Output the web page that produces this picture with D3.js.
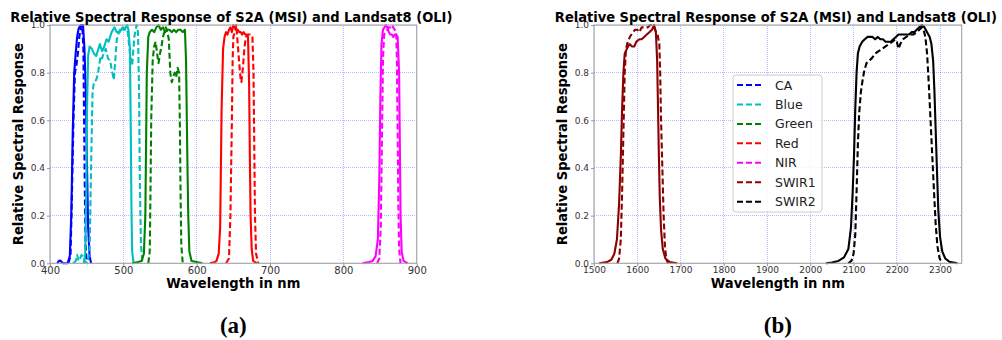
<!DOCTYPE html>
<meta charset="utf-8">
<style>
body{margin:0;background:#fff;}
text{font-family:"DejaVu Sans",sans-serif;}
.grid line{stroke:#3a3aff;stroke-opacity:.45;stroke-dasharray:1,1;stroke-width:.8;shape-rendering:crispEdges;}
.axis line{stroke:#999;}
.axis path{display:none;}
.axis text{fill:#333;}
.frame{fill:none;stroke:#aaa;stroke-width:1.2;}
.band{fill:none;stroke-width:2.1;stroke-linejoin:round;}
.dash{stroke-dasharray:6,3;}
.title,.xlab,.ylab{font-weight:bold;fill:#000;font-size:14px;text-anchor:middle;}
.tag{font-family:"Liberation Serif",serif;font-weight:bold;font-size:23px;text-anchor:middle;}
.legend rect{fill:#fff;fill-opacity:.85;stroke:#ccc;}
.legend text{font-size:12.5px;fill:#222;}
</style>
<body>
<script src="https://d3js.org/d3.v7.min.js"></script>
<script>

// band names + colours (matplotlib b, c, g, r, m, darkred, k)
var bands = ["CA","Blue","Green","Red","NIR","SWIR1","SWIR2"];
var colors = ["#0000ff","#00bfbf","#008000","#ff0000","#ff00ff","#8b0000","#000000"];

var ticksA = [400,500,600,700,800,900];
var ticksB = [1500,1600,1700,1800,1900,2000,2100,2200,2300];
var ticksY = [0,0.2,0.4,0.6,0.8,1.0];

// [wavelength nm, relative response]; solid and dashed curves
var caSolid = [[410,0],[412,0.01],[414,0.012],[416,0.005],[418,0],[424,0],[427,0.03],[429,0.2],[431,0.55],[433,0.8],[435,0.88],[437,0.95],[439,0.985],[442,1.0],[445,1.0],[447,0.9],[449,0.7],[450.5,0.4],[452,0.15],[454,0.03],[456,0]];
var caDash = [[425,0],[428,0.03],[430,0.3],[432,0.6],[434,0.8],[436,0.83],[438,0.88],[440,0.95],[442,0.99],[444,1.0],[445.5,0.9],[446.5,0.6],[447.5,0.3],[448.5,0.08],[450,0]];
var blueSolid = [[446,0],[448,0.04],[449.5,0.3],[450.5,0.65],[452,0.87],[454,0.91],[457,0.9],[460,0.88],[463,0.87],[466,0.9],[468,0.92],[471,0.89],[474,0.91],[477,0.94],[480,0.93],[484,0.97],[488,0.99],[491,0.97],[495,0.97],[499,0.99],[502,0.98],[505,1.0],[507,0.98],[509,0.9],[510,0.6],[511,0.25],[512,0.05],[514,0]];
var blueDash = [[432,0],[435,0.01],[437,0.035],[439,0.01],[441,0.02],[443,0.035],[445,0.03],[447,0.01],[451,0],[454,0.05],[456,0.4],[458,0.72],[460,0.76],[463,0.77],[465,0.79],[467,0.83],[469,0.87],[471,0.86],[473,0.88],[476,0.9],[479,0.86],[482,0.85],[485,0.8],[487,0.77],[489,0.85],[491,0.94],[494,0.97],[497,0.99],[500,0.98],[503,0.99],[506,0.97],[509,0.88],[512,0.83],[515,0.95],[518,1.0],[520,0.97],[521.5,0.7],[522.5,0.35],[524,0.08],[526,0]];
var greenSolid = [[512,0],[520,0.005],[525,0.01],[528,0.04],[530,0.2],[531,0.5],[532,0.8],[534,0.95],[536,0.97],[539,0.98],[542,0.97],[545,0.99],[548,1.0],[551,0.98],[554,0.99],[557,0.97],[560,0.98],[563,0.98],[566,0.97],[569,0.98],[572,0.97],[575,0.98],[578,0.98],[581,0.97],[584,0.98],[585.5,0.85],[587,0.5],[588.5,0.2],[590,0.05],[593,0.01],[608,0]];
var greenDash = [[534,0],[536,0.05],[537,0.3],[538,0.6],[540,0.85],[542,0.91],[544,0.93],[546,0.88],[548,0.84],[550,0.88],[552,0.91],[554,0.95],[556,0.97],[558,0.99],[560,0.97],[562,0.94],[564,0.8],[566,0.76],[568,0.78],[570,0.8],[572,0.78],[574,0.82],[576,0.8],[577,0.6],[578,0.3],[579,0.08],[581,0]];
var redSolid = [[618,0],[624,0.004],[627,0.01],[630,0.04],[632,0.15],[633,0.4],[634,0.65],[636,0.9],[638,0.95],[640,0.97],[642,0.96],[644,0.98],[646,0.99],[648,0.97],[650,1.0],[652,0.99],[654,0.98],[656,0.98],[658,0.97],[660,0.97],[662,0.96],[664,0.97],[666,0.96],[668,0.96],[670,0.95],[671.5,0.75],[672.5,0.45],[673.5,0.2],[675,0.06],[677,0.01],[682,0]];
var redDash = [[640,0],[644,0.02],[646,0.2],[647,0.4],[648,0.6],[649,0.85],[650,0.95],[652,0.97],[654,1.0],[656,0.92],[658,0.84],[660,0.77],[661,0.76],[663,0.82],[665,0.9],[667,0.95],[670,0.96],[673,0.96],[676,0.95],[677.5,0.8],[678.5,0.5],[679.5,0.2],[681,0.04],[684,0]];
var nirSolid = [[826,0],[835,0.005],[840,0.01],[844,0.03],[847,0.1],[849,0.35],[850.5,0.7],[852,0.92],[854,0.98],[856,0.99],[858,1.0],[860,0.99],[862,0.97],[864,0.96],[866,0.96],[868,0.95],[870,0.96],[872,0.96],[874,0.95],[876,0.8],[877,0.5],[878,0.2],[879.5,0.05],[882,0.01],[888,0]];
var nirDash = [[846,0],[849,0.02],[851,0.15],[852.5,0.5],[854,0.85],[855.5,0.96],[858,0.97],[860,0.98],[862,0.99],[864,0.99],[866,1.0],[868,0.99],[870,0.98],[872,0.97],[873,0.85],[874,0.55],[875,0.25],[876,0.06],[878,0]];
var swir1Solid = [[1512,0],[1530,0.005],[1540,0.015],[1547,0.04],[1553,0.1],[1558,0.25],[1562,0.45],[1565,0.65],[1568,0.8],[1571,0.88],[1576,0.9],[1582,0.92],[1588,0.91],[1593,0.91],[1598,0.93],[1605,0.94],[1610,0.94],[1616,0.95],[1622,0.96],[1628,0.97],[1634,0.98],[1639,1.0],[1643,0.97],[1646,0.85],[1648,0.65],[1650,0.45],[1652,0.28],[1655,0.14],[1659,0.06],[1665,0.02],[1675,0.005],[1692,0]];
var swir1Dash = [[1554,0],[1558,0.02],[1562,0.1],[1565,0.3],[1568,0.55],[1571,0.8],[1574,0.9],[1578,0.93],[1583,0.95],[1590,0.97],[1595,0.98],[1600,0.98],[1605,0.97],[1610,0.99],[1616,0.99],[1624,0.99],[1630,1.0],[1636,1.0],[1641,0.98],[1647,0.96],[1651,0.92],[1653,0.8],[1655,0.6],[1658,0.4],[1661,0.2],[1664,0.07],[1667,0.02],[1671,0]];
var swir2Solid = [[2036,0],[2050,0.003],[2065,0.01],[2078,0.025],[2088,0.06],[2094,0.15],[2098,0.3],[2101,0.45],[2104,0.65],[2107,0.8],[2110,0.88],[2114,0.91],[2120,0.93],[2126,0.94],[2132,0.95],[2138,0.95],[2144,0.95],[2150,0.94],[2156,0.95],[2162,0.94],[2168,0.94],[2174,0.93],[2180,0.93],[2186,0.93],[2192,0.94],[2198,0.95],[2204,0.96],[2210,0.96],[2216,0.96],[2222,0.96],[2228,0.96],[2234,0.97],[2240,0.97],[2246,0.98],[2252,0.99],[2258,1.0],[2264,0.99],[2270,0.97],[2276,0.95],[2280,0.92],[2284,0.85],[2287,0.72],[2290,0.55],[2293,0.38],[2296,0.22],[2300,0.11],[2305,0.05],[2312,0.02],[2322,0.006],[2340,0]];
var swir2Dash = [[2088,0],[2095,0.01],[2100,0.04],[2104,0.12],[2107,0.3],[2110,0.5],[2113,0.63],[2117,0.72],[2121,0.77],[2125,0.81],[2130,0.84],[2136,0.85],[2142,0.86],[2150,0.88],[2158,0.89],[2166,0.9],[2174,0.91],[2182,0.92],[2190,0.93],[2196,0.94],[2200,0.93],[2204,0.9],[2208,0.92],[2214,0.94],[2222,0.95],[2230,0.96],[2238,0.96],[2246,0.97],[2252,0.98],[2258,0.99],[2262,0.98],[2266,0.95],[2270,0.88],[2274,0.75],[2278,0.6],[2282,0.45],[2286,0.3],[2290,0.16],[2294,0.07],[2299,0.02],[2305,0]];

var title = "Relative Spectral Response of S2A (MSI) and Landsat8 (OLI)";

var svg = d3.select("body").append("svg").attr("width",1002).attr("height",340);

function panel(o){
	var x = d3.scaleLinear().domain(o.domain).range([o.left,o.right]);
	var y = d3.scaleLinear().domain([0,1]).range([263.3,25]);
	var g = svg.append("g");

	var grid = g.append("g").attr("class","grid");
	grid.selectAll(".gx").data(o.ticks).enter().append("line")
		.attr("x1",d=>x(d)).attr("x2",d=>x(d)).attr("y1",y(0)).attr("y2",y(1));
	grid.selectAll(".gy").data(ticksY).enter().append("line")
		.attr("x1",x.range()[0]).attr("x2",x.range()[1]).attr("y1",d=>y(d)).attr("y2",d=>y(d));

	var line = d3.line().x(d=>x(d[0])).y(d=>y(d[1]));
	o.curves.forEach(function(c){
		g.append("path").attr("class", c[2] ? "band dash" : "band")
			.attr("stroke", colors[c[0]]).attr("d", line(c[1]));
	});

	g.append("rect").attr("class","frame")
		.attr("x",x.range()[0]).attr("y",y(1))
		.attr("width",x.range()[1]-x.range()[0]).attr("height",y(0)-y(1));

	g.append("g").attr("class","axis").attr("transform","translate(0,"+y(0)+")")
		.call(d3.axisBottom(x).tickValues(o.ticks).tickFormat(d3.format("d")).tickSize(3).tickPadding(0.5))
		.selectAll("text").style("font-size",o.xFont+"px");
	g.append("g").attr("class","axis").attr("transform","translate("+x.range()[0]+",0)")
		.call(d3.axisLeft(y).tickValues(ticksY).tickFormat(d3.format(".1f")).tickSize(3).tickPadding(2))
		.selectAll("text").style("font-size","9px");

	var cx = (o.left+o.right)/2;
	g.append("text").attr("class","title").attr("x",cx-2).attr("y",21.5)
		.attr("textLength",442).attr("lengthAdjust","spacingAndGlyphs").text(title);
	g.append("text").attr("class","xlab").attr("x",cx).attr("y",287.5)
		.attr("textLength",134).attr("lengthAdjust","spacingAndGlyphs").text("Wavelength in nm");
	g.append("text").attr("class","ylab")
		.attr("transform","translate("+(o.left-27)+","+((y(0)+y(1))/2)+") rotate(-90)")
		.attr("textLength",202).attr("lengthAdjust","spacingAndGlyphs").text("Relative Spectral Response");
	g.append("text").attr("class","tag").attr("x",cx).attr("y",333).text(o.tag);
	return g;
}

panel({domain:[400,900], left:50, right:416.7, ticks:ticksA, xFont:10, tag:"(a)",
	curves:[[0,caSolid],[0,caDash,1],[1,blueSolid],[1,blueDash,1],[2,greenSolid],[2,greenDash,1],
		[3,redSolid],[3,redDash,1],[4,nirSolid],[4,nirDash,1]]});

var gb = panel({domain:[1500,2350], left:594, right:961.7, ticks:ticksB, xFont:9, tag:"(b)",
	curves:[[5,swir1Solid],[5,swir1Dash,1],[6,swir2Solid],[6,swir2Dash,1]]});

// legend (right panel only)
var leg = gb.append("g").attr("class","legend");
leg.append("rect").attr("x",733).attr("y",75).attr("width",89).attr("height",137).attr("rx",3);
var item = leg.selectAll(".item").data(bands).enter().append("g")
	.attr("transform",(d,i)=>"translate(0,"+(85+i*19.45)+")");
item.append("line").attr("class","dash").attr("x1",737).attr("x2",763)
	.attr("stroke",(d,i)=>colors[i]).attr("stroke-width",2);
item.append("text").attr("x",775).attr("y",4.5).text(d=>d);

</script>
</body>
